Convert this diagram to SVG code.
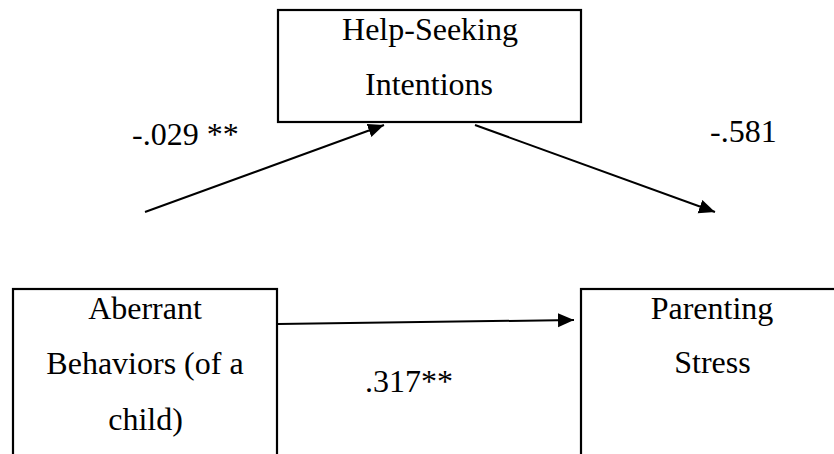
<svg xmlns="http://www.w3.org/2000/svg" width="834" height="454" viewBox="0 0 834 454">
<style>
.box{fill:#fff;stroke:#000;stroke-width:2.2}
.t{font-family:"Liberation Serif","Times New Roman",serif;font-size:32px;fill:#000}
.c{text-anchor:middle}
.edge{stroke:#000;stroke-width:2;fill:none;marker-end:url(#ah)}
</style>
<defs>
<marker id="ah" markerUnits="userSpaceOnUse" markerWidth="18" markerHeight="16" refX="16" refY="7" orient="auto">
<path d="M0,0 L16,7 L0,14 Z" fill="#000"/>
</marker>
</defs>
<rect width="834" height="454" fill="#fff"/>
<g id="help-seeking">
<rect class="box" x="278" y="10" width="303" height="112"/>
<text class="t c" x="430" y="40">Help-Seeking</text>
<text class="t c" x="429" y="95">Intentions</text>
</g>
<g id="aberrant">
<rect class="box" x="13" y="289" width="264" height="180"/>
<text class="t c" x="145" y="319">Aberrant</text>
<text class="t c" x="145" y="374">Behaviors (of a</text>
<text class="t c" x="145.5" y="430">child)</text>
</g>
<g id="parenting">
<rect class="box" x="581" y="289" width="262" height="180"/>
<text class="t c" x="712" y="319">Parenting</text>
<text class="t c" x="712.5" y="373">Stress</text>
</g>
<g id="connectors">
<line class="edge" x1="145" y1="212" x2="384" y2="125"/>
<line class="edge" x1="475" y1="125" x2="715" y2="212"/>
<line class="edge" x1="278" y1="324" x2="574" y2="320"/>
</g>
<g id="labels">
<text class="t" x="132" y="145">-.029 **</text>
<text class="t" x="710" y="142">-.581</text>
<text class="t" x="365" y="392">.317**</text>
</g>
</svg>
